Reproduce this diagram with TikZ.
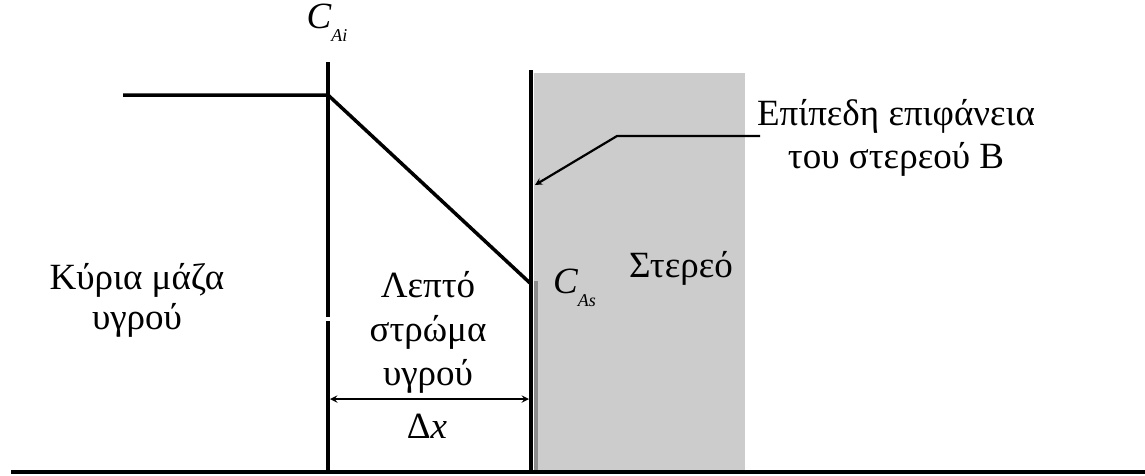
\documentclass[tikz,border=0pt]{standalone}
\usepackage{fontspec}
\setmainfont{Liberation Serif}
\newcommand{\subidx}[1]{\raisebox{-0.35em}{\fontsize{18}{20}\selectfont\itshape #1}}
\begin{document}
\begin{tikzpicture}[x=1pt,y=-1pt,every node/.style={font=\fontsize{37}{42}\selectfont,inner sep=0pt},>=stealth,
  wall/.style={line width=3.5pt},
  ptr/.style={line width=2.2pt}]
\useasboundingbox (0,0) rectangle (1145,475);
% solid B
\fill[black!20] (534,73) rectangle (745,472);
\fill[black!45] (534,281) rectangle (538,472);
% concentration profile
\coordinate (bulkc) at (123,95);
\coordinate (ai) at (328,95);
\coordinate (as) at (530,283);
\draw[wall] (bulkc) -- (ai) -- (as);
% film boundaries
\draw[wall] (328,62) -- (328,317);
\draw[wall] (328,321) -- (328,472);
\draw[wall] (531,70) -- (531,472);
\draw[wall] (11,472) -- (1145,472);
% labels
\node (ci) at (327,23) {\itshape C\subidx{Ai}};
\node[anchor=west] (cs) at (553,288) {\itshape C\subidx{As}};
\node (solid) at (681,268) {Στερεό};
\node[align=center,font=\fontsize{37}{40}\selectfont] (bulk) at (137,300) {Κύρια μάζα\\υγρού};
\node[align=center,font=\fontsize{37}{44}\selectfont] (film) at (428,332) {Λεπτό\\στρώμα\\υγρού};
\node (dx) at (427,426) {Δ\textit{x}};
\node[align=center,font=\fontsize{37}{43}\selectfont] (surf) at (896,138) {Επίπεδη επιφάνεια\\του στερεού B};
% pointer to the surface
\coordinate (lead) at (760,136);
\coordinate (bend) at (617,136);
\coordinate (tip) at (535,185);
\draw[ptr,->] (lead) -- (bend) -- (tip);
% film thickness
\coordinate (dxl) at (330,399);
\coordinate (dxr) at (529,399);
\draw[ptr,<->] (dxl) -- (dxr);
\end{tikzpicture}
\end{document}
